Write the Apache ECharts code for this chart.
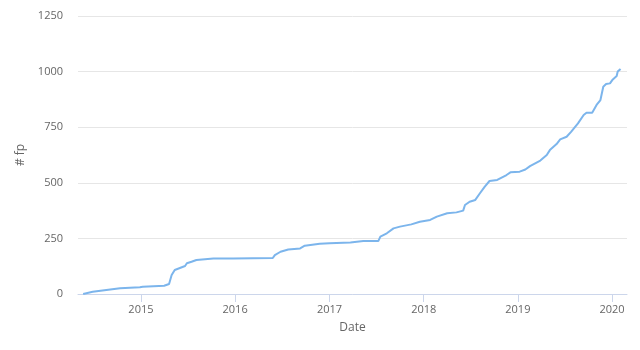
<!DOCTYPE html>
<html><head><meta charset="utf-8">
<script src="https://cdn.jsdelivr.net/npm/echarts@6/dist/echarts.min.js"></script>
<style>html,body{margin:0;padding:0;background:#fff}#c{width:640px;height:350px}</style>
</head><body><div id="c"></div>
<script>
var dates = ["2014-05-22","2014-06-28","2014-10-12","2014-12-28","2015-01-08","2015-04-01","2015-04-20","2015-04-30","2015-05-12","2015-06-21","2015-06-28","2015-07-16","2015-08-04","2015-10-09","2015-12-24","2016-05-26","2016-06-03","2016-06-25","2016-07-25","2016-09-09","2016-09-27","2016-11-24","2017-01-01","2017-03-23","2017-05-12","2017-07-09","2017-07-17","2017-08-11","2017-09-06","2017-10-01","2017-11-14","2017-12-17","2018-01-26","2018-02-21","2018-04-02","2018-05-08","2018-06-03","2018-06-10","2018-06-28","2018-07-20","2018-08-07","2018-08-25","2018-09-13","2018-10-13","2018-11-18","2018-12-03","2019-01-08","2019-01-30","2019-02-17","2019-03-29","2019-04-23","2019-05-05","2019-05-31","2019-06-14","2019-07-09","2019-07-27","2019-08-22","2019-09-13","2019-09-24","2019-10-16","2019-11-02","2019-11-17","2019-11-28","2019-12-09","2019-12-24","2020-01-04","2020-01-19","2020-01-23","2020-02-03"];
var fpCount = [0,10,26,30,33,37,45,85,108,126,138,145,153,160,160,162,175,190,200,205,217,226,228,232,238,238,258,273,295,303,313,325,333,348,363,367,375,400,415,423,453,482,508,513,535,547,550,560,575,600,625,647,674,695,707,730,767,805,815,815,850,872,932,944,947,965,980,1000,1012];
var yTicks = [0,250,500,750,1000,1250];
var xMin = "2014-05-02", xMax = "2020-02-28";

var chart = echarts.init(document.getElementById('c'), null, {renderer:'canvas'});
var font = "'Open Sans', sans-serif";
chart.setOption({
  animation:false,
  backgroundColor:'#fff',
  grid:{left:78,right:13,top:16,bottom:56,containLabel:false},
  xAxis:{
    type:'time',
    min:xMin, max:xMax,
    minInterval:365*24*3600*1000,
    name:'Date', nameLocation:'middle', nameGap:28,
    nameTextStyle:{color:'#666',fontSize:12,fontFamily:font},
    axisLine:{lineStyle:{color:'#ccd6eb',width:1}},
    axisTick:{show:true,length:8,lineStyle:{color:'#ccd6eb'}},
    splitLine:{show:false},
    axisLabel:{color:'#666',fontSize:11,fontFamily:font,margin:10,
      showMinLabel:false, showMaxLabel:false,
      formatter:function(v){return new Date(v).getFullYear()+'';}}
  },
  yAxis:{
    type:'value', min:yTicks[0], max:yTicks[yTicks.length-1], interval:250,
    name:'# fp', nameLocation:'middle', nameGap:45,
    nameTextStyle:{color:'#666',fontSize:12,fontFamily:font},
    axisLine:{show:false}, axisTick:{show:false},
    splitLine:{lineStyle:{color:'#e6e6e6'}},
    axisLabel:{color:'#666',fontSize:11,fontFamily:font,margin:15,
      formatter:function(v){return String(v);}}
  },
  series:[{
    type:'line', showSymbol:false, symbol:'none',
    data:dates.map(function(d,i){return [d,fpCount[i]];}),
    lineStyle:{color:'#7cb5ec',width:2},
    itemStyle:{color:'#7cb5ec'}
  }]
});
</script></body></html>
